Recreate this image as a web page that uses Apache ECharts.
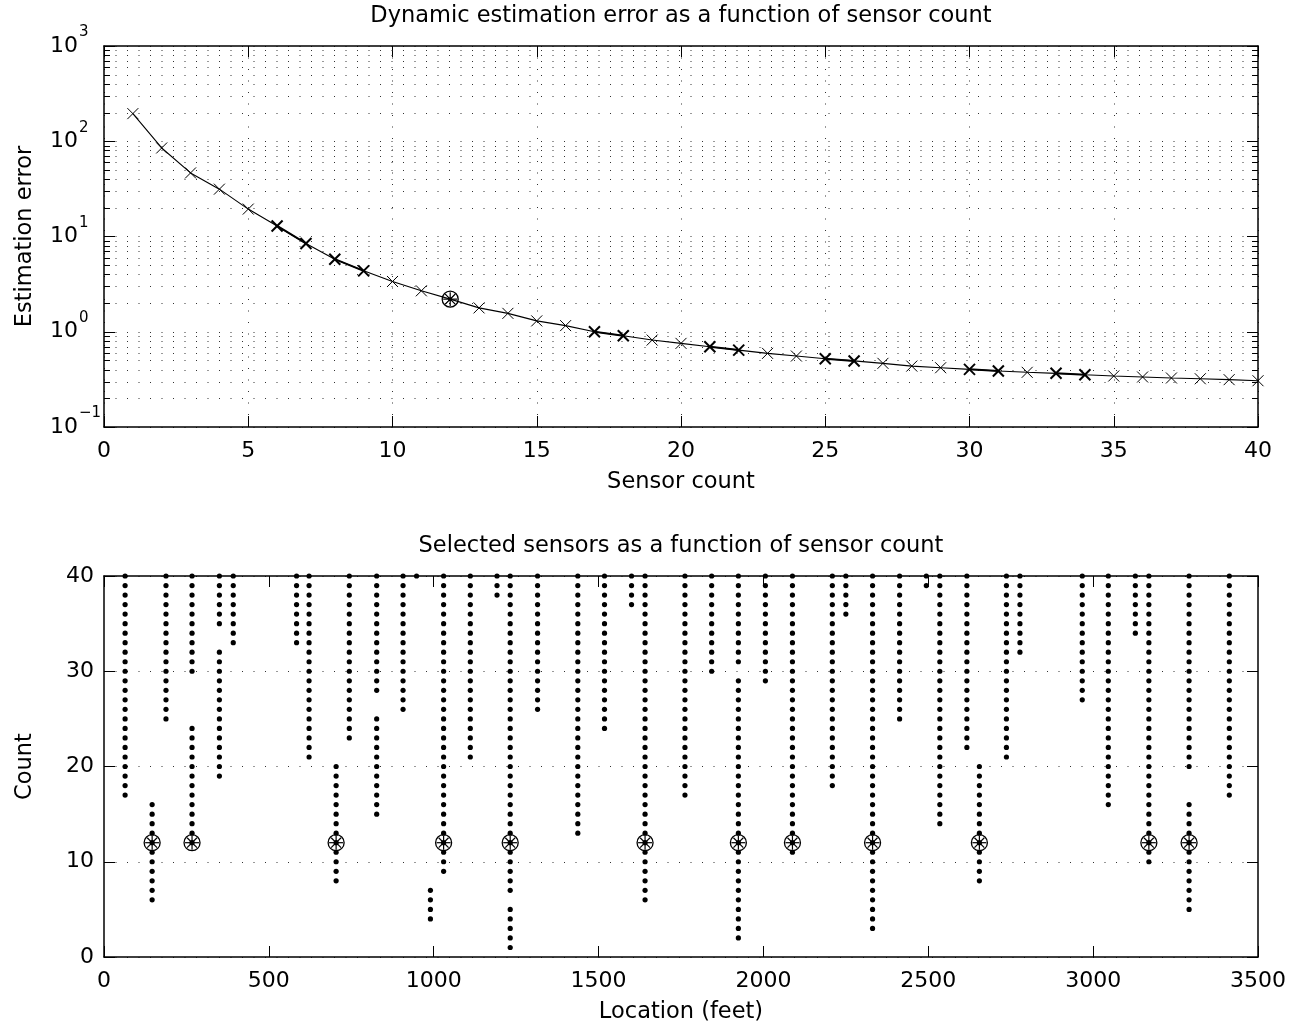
<!DOCTYPE html>
<html>
<head>
<meta charset="utf-8">
<script src="https://cdn.jsdelivr.net/npm/echarts@6/dist/echarts.min.js"></script>
<style>html,body{margin:0;padding:0;background:#fff}#c{width:1299px;height:1027px}</style>
</head>
<body>
<div id="c"></div>
<script>
// ---------- Top plot data ----------
const sensorCounts = [1,2,3,4,5,6,7,8,9,10,11,12,13,14,15,16,17,18,19,20,21,22,23,24,25,26,27,28,29,30,31,32,33,34,35,36,37,38,39,40];
const estimationErrors = [195, 85, 46.5, 31.4, 19.4, 12.9, 8.45, 5.78, 4.36, 3.37, 2.69, 2.20, 1.78, 1.56, 1.30, 1.16, 1.00, 0.908, 0.818, 0.755, 0.696, 0.642, 0.593, 0.556, 0.521, 0.494, 0.466, 0.436, 0.419, 0.403, 0.387, 0.375, 0.366, 0.354, 0.343, 0.335, 0.327, 0.321, 0.314, 0.306];
const chosenCount = 12;
const boldPairs = [[6,7],[8,9],[17,18],[21,22],[25,26],[30,31],[33,34]];
const logMinorTicks = [0.2,0.3,0.4,0.5,0.6,0.7,0.8,0.9,2,3,4,5,6,7,8,9,20,30,40,50,60,70,80,90,200,300,400,500,600,700,800,900];
const topXTicks = { min: 0, max: 40, interval: 5 };
const topYRange = { min: 0.1, max: 1000 };

// ---------- Bottom plot data ----------
const sensorLocations = [64,146,188,267,350,392,584,622,704,744,827,907,948,990,1030,1111,1192,1232,1315,1437,1518,1600,1641,1762,1843,1924,2006,2088,2209,2250,2331,2413,2494,2535,2617,2655,2737,2778,2967,3046,3128,3169,3291,3413];
const selectedCountRanges = [
  [[17,40]], [[6,16]], [[25,40]], [[12,24],[30,40]], [[19,32],[35,40]], [[33,40]], [[33,40]], [[21,40]],
  [[8,20]], [[23,40]], [[15,25],[28,40]], [[26,40]], [[40,40]], [[4,7]], [[9,40]], [[21,40]],
  [[38,40]], [[1,5],[7,40]], [[26,40]], [[13,40]], [[24,40]], [[37,40]], [[6,40]], [[17,40]],
  [[30,40]], [[2,29],[31,40]], [[29,40]], [[11,40]], [[18,40]], [[36,40]], [[3,40]], [[25,40]],
  [[39,40]], [[14,40]], [[22,40]], [[8,20]], [[21,40]], [[32,40]], [[27,40]], [[16,40]],
  [[34,40]], [[10,40]], [[5,16],[20,40]], [[17,40]]
];
const bottomXTicks = { min: 0, max: 3500, interval: 500 };
const bottomYTicks = { min: 0, max: 40, interval: 10 };

// ---------- Build series data ----------
const lineData = sensorCounts.map((c, i) => [c, estimationErrors[i]]);
const boldSet = new Set(boldPairs.flat());
const xMarkData = sensorCounts.map((c, i) => [c, estimationErrors[i], boldSet.has(c) ? 2 : 1]);
const topChosen = [[chosenCount, estimationErrors[sensorCounts.indexOf(chosenCount)]]];

const dotData = [];
const bottomChosen = [];
sensorLocations.forEach((loc, i) => {
  selectedCountRanges[i].forEach(([a, b]) => {
    for (let n = a; n <= b; n++) dotData.push([loc, n]);
    if (chosenCount >= a && chosenCount <= b) bottomChosen.push([loc, chosenCount]);
  });
});

const FONT = 'DejaVu Sans';
const TICK = 22;
const NAME = 22.5;
const BLACK = '#000';
const GRIDDOT = { color: '#333', width: 1, type: [1, 10.5] };

function renderX(params, api) {
  const p = api.coord([api.value(0), api.value(1)]);
  const w = api.value(2);
  const s = 5.5;
  return { type: 'group', children: [
    { type: 'line', shape: { x1: p[0]-s, y1: p[1]-s, x2: p[0]+s, y2: p[1]+s }, style: { stroke: BLACK, lineWidth: w } },
    { type: 'line', shape: { x1: p[0]-s, y1: p[1]+s, x2: p[0]+s, y2: p[1]-s }, style: { stroke: BLACK, lineWidth: w } }
  ]};
}
function renderStar(params, api) {
  const p = api.coord([api.value(0), api.value(1)]);
  const r = 8, a = 7, d = a * Math.SQRT1_2;
  const st = { stroke: BLACK, lineWidth: 1.2, fill: null };
  return { type: 'group', children: [
    { type: 'circle', shape: { cx: p[0], cy: p[1], r: r }, style: { stroke: BLACK, lineWidth: 1.3, fill: 'none' } },
    { type: 'line', shape: { x1: p[0]-a, y1: p[1], x2: p[0]+a, y2: p[1] }, style: st },
    { type: 'line', shape: { x1: p[0], y1: p[1]-a, x2: p[0], y2: p[1]+a }, style: st },
    { type: 'line', shape: { x1: p[0]-d, y1: p[1]-d, x2: p[0]+d, y2: p[1]+d }, style: st },
    { type: 'line', shape: { x1: p[0]-d, y1: p[1]+d, x2: p[0]+d, y2: p[1]-d }, style: st },
    { type: 'circle', shape: { cx: p[0], cy: p[1], r: 2 }, style: { fill: BLACK } }
  ]};
}
function renderMinor(params, api) {
  const cs = params.coordSys;
  const y = Math.round(api.coord([0, api.value(1)])[1]) + 0.5;
  const L = 6;
  return { type: 'group', children: [
    { type: 'line', shape: { x1: cs.x, y1: y, x2: cs.x + cs.width, y2: y }, style: { stroke: GRIDDOT.color, lineWidth: 1, lineDash: [1, 10.5] } },
    { type: 'line', shape: { x1: cs.x, y1: y, x2: cs.x + L, y2: y }, style: { stroke: BLACK, lineWidth: 1 } },
    { type: 'line', shape: { x1: cs.x + cs.width - L, y1: y, x2: cs.x + cs.width, y2: y }, style: { stroke: BLACK, lineWidth: 1 } }
  ]};
}

function expLabel(v) {
  const e = Math.round(Math.log10(v));
  const s = e < 0 ? '\u2212' + Math.abs(e) : String(e);
  return '{b|10}{sup|' + s + '}';
}

const axisLineStyle = { show: true, onZero: false, lineStyle: { color: BLACK, width: 1.5 } };
const tickIn = { show: true, inside: true, length: 11, lineStyle: { color: BLACK, width: 1 } };
const lbl = (margin) => ({ show: true, margin: margin, color: BLACK, fontSize: TICK, fontFamily: FONT, formatter: v => String(v) });
const nameStyle = { color: BLACK, fontSize: NAME, fontFamily: FONT };

const option = {
  animation: false,
  backgroundColor: '#fff',
  title: [
    { text: 'Dynamic estimation error as a function of sensor count', left: 681, top: 5, textAlign: 'center', padding: 0,
      textStyle: { fontSize: NAME, fontWeight: 'normal', color: BLACK, fontFamily: FONT } },
    { text: 'Selected sensors as a function of sensor count', left: 681, top: 535, textAlign: 'center', padding: 0,
      textStyle: { fontSize: NAME, fontWeight: 'normal', color: BLACK, fontFamily: FONT } }
  ],
  grid: [
    { left: 104, right: 41, top: 46, height: 381 },
    { left: 104, right: 41, top: 576, height: 381 }
  ],
  xAxis: [
    { gridIndex: 0, type: 'value', position: 'bottom', min: topXTicks.min, max: topXTicks.max, interval: topXTicks.interval,
      axisLine: axisLineStyle, axisTick: tickIn, axisLabel: lbl(13),
      splitLine: { show: true, lineStyle: GRIDDOT },
      name: 'Sensor count', nameLocation: 'middle', nameGap: 44, nameMoveOverlap: false, nameTextStyle: nameStyle },
    { gridIndex: 0, type: 'value', position: 'top', min: topXTicks.min, max: topXTicks.max, interval: topXTicks.interval,
      axisLine: axisLineStyle, axisTick: tickIn, axisLabel: { show: false }, splitLine: { show: false } },
    { gridIndex: 1, type: 'value', position: 'bottom', min: bottomXTicks.min, max: bottomXTicks.max, interval: bottomXTicks.interval,
      axisLine: axisLineStyle, axisTick: tickIn, axisLabel: lbl(13), splitLine: { show: false },
      name: 'Location (feet)', nameLocation: 'middle', nameGap: 44, nameMoveOverlap: false, nameTextStyle: nameStyle },
    { gridIndex: 1, type: 'value', position: 'top', min: bottomXTicks.min, max: bottomXTicks.max, interval: bottomXTicks.interval,
      axisLine: axisLineStyle, axisTick: tickIn, axisLabel: { show: false }, splitLine: { show: false } }
  ],
  yAxis: [
    { gridIndex: 0, type: 'log', logBase: 10, position: 'left', min: topYRange.min, max: topYRange.max,
      axisLine: axisLineStyle, axisTick: tickIn,
      axisLabel: { show: true, margin: 54, align: 'left', formatter: expLabel, color: BLACK, fontSize: TICK, fontFamily: FONT,
        rich: { b: { fontSize: TICK, fontFamily: FONT, color: BLACK, lineHeight: 42 },
                sup: { fontSize: 15, fontFamily: FONT, color: BLACK, verticalAlign: 'top', padding: [0, 0, 0, 1] } } },
      splitLine: { show: true, lineStyle: GRIDDOT },
      name: 'Estimation error', nameLocation: 'middle', nameGap: 67, nameMoveOverlap: false, nameTextStyle: nameStyle },
    { gridIndex: 0, type: 'log', logBase: 10, position: 'right', min: topYRange.min, max: topYRange.max,
      axisLine: axisLineStyle, axisTick: tickIn, axisLabel: { show: false }, splitLine: { show: false } },
    { gridIndex: 1, type: 'value', position: 'left', min: bottomYTicks.min, max: bottomYTicks.max, interval: bottomYTicks.interval,
      axisLine: axisLineStyle, axisTick: tickIn, axisLabel: lbl(10),
      splitLine: { show: true, lineStyle: GRIDDOT },
      name: 'Count', nameLocation: 'middle', nameGap: 67, nameMoveOverlap: false, nameTextStyle: nameStyle },
    { gridIndex: 1, type: 'value', position: 'right', min: bottomYTicks.min, max: bottomYTicks.max, interval: bottomYTicks.interval,
      axisLine: axisLineStyle, axisTick: tickIn, axisLabel: { show: false }, splitLine: { show: false } }
  ],
  series: [
    { type: 'custom', name: 'minor', xAxisIndex: 0, yAxisIndex: 0, renderItem: renderMinor,
      data: logMinorTicks.map(v => [0, v]), encode: { x: 0, y: 1 }, silent: true, z: 1 },
    { type: 'line', xAxisIndex: 0, yAxisIndex: 0, data: lineData, showSymbol: false,
      lineStyle: { color: BLACK, width: 1.1 }, z: 3 }
  ].concat(boldPairs.map(([a, b]) => ({
      type: 'line', xAxisIndex: 0, yAxisIndex: 0, showSymbol: false,
      data: [lineData[sensorCounts.indexOf(a)], lineData[sensorCounts.indexOf(b)]],
      lineStyle: { color: BLACK, width: 2 }, z: 3 }))
  ).concat([
    { type: 'custom', xAxisIndex: 0, yAxisIndex: 0, renderItem: renderX, data: xMarkData, encode: { x: 0, y: 1 }, z: 4 },
    { type: 'custom', xAxisIndex: 0, yAxisIndex: 0, renderItem: renderStar, data: topChosen, encode: { x: 0, y: 1 }, z: 5 },
    { type: 'scatter', xAxisIndex: 2, yAxisIndex: 2, data: dotData, symbol: 'circle', symbolSize: 5.2,
      itemStyle: { color: BLACK, opacity: 1 }, clip: false, z: 3 },
    { type: 'custom', xAxisIndex: 2, yAxisIndex: 2, renderItem: renderStar, data: bottomChosen, encode: { x: 0, y: 1 }, z: 5 }
  ])
};

const chart = echarts.init(document.getElementById('c'));
chart.setOption(option);
</script>
</body>
</html>
